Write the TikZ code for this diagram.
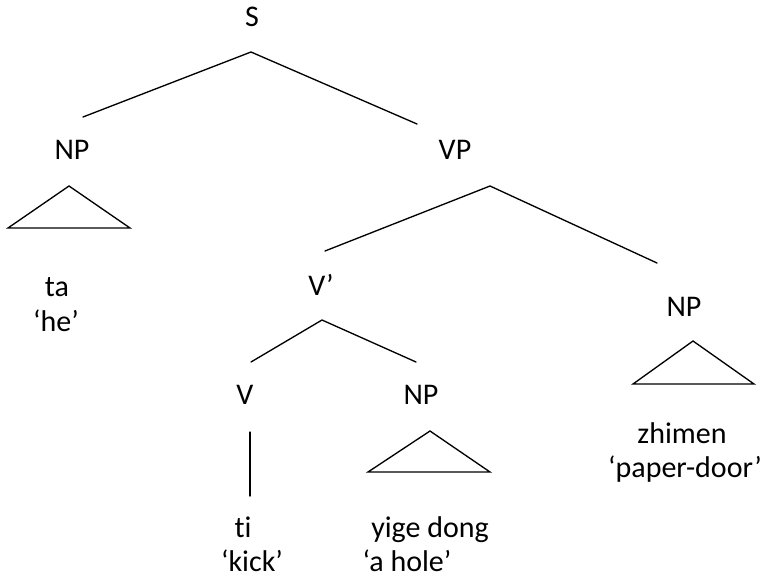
\documentclass[tikz,border=0pt]{standalone}
\usepackage{fontspec}
\setmainfont[Ligatures=NoCommon]{Carlito}
\newcommand\treefont{\fontsize{22.5pt}{27pt}\selectfont}
\tikzset{
	cat/.style={
		anchor=base, inner sep=0pt, font=\treefont
	},
	gloss/.style={
		cat
	},
	branch/.style={
		line width=1pt, line cap=round
	},
	roof/.style={
		line width=1pt, line join=miter
	}
}
% triangle under a phrase: name, apex, base left, base right
\def\roof#1#2#3#4{%
	\coordinate (#1-apex) at #2;
	\coordinate (#1-left) at #3;
	\coordinate (#1-right) at #4;
	\draw[roof] (#1-apex) -- (#1-left) -- (#1-right) -- cycle;
}

\begin{document}
\begin{tikzpicture}[x=0.75pt, y=-0.75pt]
	\useasboundingbox (0,0) rectangle (762,578);

	% category labels
	\node[cat] (S)   at (252,26)  {S};
	\node[cat] (NPa) at (72,159)  {NP};
	\node[cat] (VP)  at (455,159) {VP};
	\node[cat] (Vb)  at (321,295) {V’};
	\node[cat] (NPc) at (684,316) {NP};
	\node[cat] (V)   at (245,404) {V};
	\node[cat] (NPb) at (421,404) {NP};

	% words and glosses
	\node[gloss] (ta)      at (57,296)  {ta};
	\node[gloss] (ta-gl)   at (56,331)  {‘he’};
	\node[gloss] (ti)      at (243,537) {ti};
	\node[gloss] (ti-gl)   at (252,571) {‘kick’};
	\node[gloss] (yige)    at (430,537) {yige dong};
	\node[gloss] (yige-gl) at (407,571) {‘a hole’};
	\node[gloss] (zhimen)  at (682,443) {zhimen};
	\node[gloss] (zhimen-gl) at (685,477) {‘paper-door’};

	% branch points
	\coordinate (S-top)   at (251,52);
	\coordinate (S-l)     at (83,117);
	\coordinate (S-r)     at (417,124);
	\coordinate (VP-top)  at (490,186);
	\coordinate (VP-l)    at (325,251);
	\coordinate (VP-r)    at (657,263);
	\coordinate (Vb-top)  at (322,320);
	\coordinate (Vb-l)    at (251,362);
	\coordinate (Vb-r)    at (416,362);
	\coordinate (V-top)   at (250,432);
	\coordinate (V-bot)   at (250,496);

	\draw[branch] (S-l) -- (S-top) -- (S-r);
	\draw[branch] (VP-l) -- (VP-top) -- (VP-r);
	\draw[branch] (Vb-l) -- (Vb-top) -- (Vb-r);
	\draw[branch] (V-top) -- (V-bot);

	\roof{NPa}{(69,186)}{(8,228)}{(130,228)}
	\roof{NPb}{(430,431)}{(368,472)}{(490,472)}
	\roof{NPc}{(693,341)}{(633,384)}{(754,384)}
\end{tikzpicture}
\end{document}
